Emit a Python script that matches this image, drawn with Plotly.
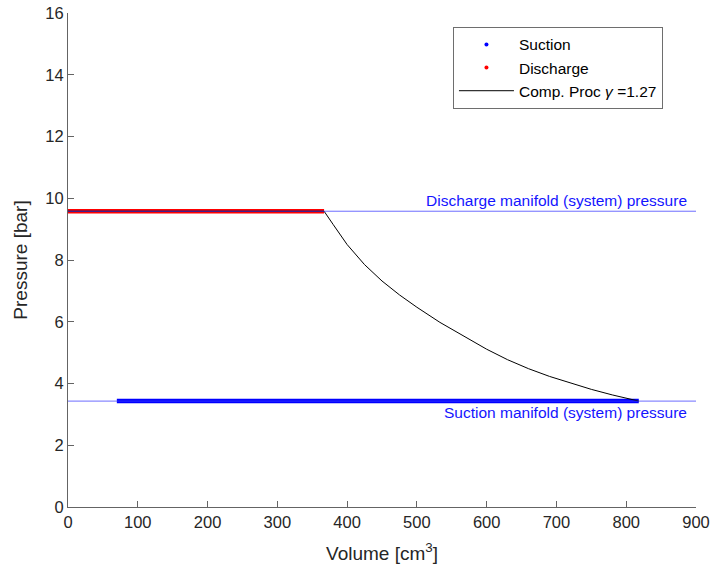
import plotly.graph_objects as go

# Manifold (system) pressures [bar]
p_suction = 3.43
p_discharge = 9.58

# Suction stroke: volume range [cm^3]
suction_v = [70, 818]
suction_p = [p_suction, p_suction]

# Discharge stroke: volume range [cm^3]
discharge_v = [0, 367]
discharge_p = [p_discharge, p_discharge]

# Polytropic compression, gamma = 1.27 (volume [cm^3], pressure [bar])
comp_v = [0, 367, 380, 400, 425, 450, 475, 500, 533, 560, 580, 600, 630,
          660, 690, 720, 750, 780, 800, 818]
comp_p = [9.58, 9.58, 9.15, 8.5, 7.85, 7.32, 6.87, 6.47, 5.98, 5.63, 5.36,
          5.11, 4.77, 4.48, 4.23, 4.01, 3.81, 3.63, 3.53, 3.43]

x_range = [0, 900]
y_range = [0, 16]

blue = "rgb(0,0,255)"
manifold_blue = "rgba(60,60,255,0.75)"
red = "rgb(255,0,0)"
font_family = "Liberation Sans, Arial, sans-serif"

fig = go.Figure()

# Discharge (drawn as a thick red band)
fig.add_trace(go.Scatter(x=discharge_v, y=discharge_p, mode="lines",
                         line=dict(color=red, width=4.5),
                         showlegend=False, hoverinfo="skip"))
# Suction (drawn as a thick blue band)
fig.add_trace(go.Scatter(x=suction_v, y=suction_p, mode="lines",
                         line=dict(color=blue, width=4.5),
                         showlegend=False, hoverinfo="skip"))

# Legend entries
fig.add_trace(go.Scatter(x=[None], y=[None], mode="markers", name="Suction",
                         marker=dict(color=blue, size=4)))
fig.add_trace(go.Scatter(x=[None], y=[None], mode="markers", name="Discharge",
                         marker=dict(color=red, size=4)))

# Compression process
fig.add_trace(go.Scatter(x=comp_v, y=comp_p, mode="lines",
                         name="Comp. Proc <i>γ</i> =1.27",
                         line=dict(color="black", width=1)))

# Manifold pressure lines
fig.add_trace(go.Scatter(x=x_range, y=[p_discharge, p_discharge], mode="lines",
                         line=dict(color=manifold_blue, width=1),
                         showlegend=False, hoverinfo="skip"))
fig.add_trace(go.Scatter(x=x_range, y=[p_suction, p_suction], mode="lines",
                         line=dict(color=manifold_blue, width=1),
                         showlegend=False, hoverinfo="skip"))

fig.add_annotation(x=890, y=p_discharge, xref="x", yref="y",
                   text="Discharge manifold (system) pressure",
                   showarrow=False, xanchor="right", yanchor="bottom", yshift=0,
                   font=dict(family=font_family, size=15.5, color="rgb(20,20,255)"))
fig.add_annotation(x=890, y=p_suction, xref="x", yref="y",
                   text="Suction manifold (system) pressure",
                   showarrow=False, xanchor="right", yanchor="top", yshift=-1,
                   font=dict(family=font_family, size=15.5, color="rgb(20,20,255)"))

axis_color = "rgb(38,38,38)"
common_axis = dict(showgrid=False, zeroline=False, showline=True,
                   linecolor="rgb(100,100,100)", linewidth=1,
                   ticks="inside", ticklen=6, tickcolor="rgb(100,100,100)",
                   tickfont=dict(family=font_family, size=16.5, color=axis_color),
                   mirror=False, automargin=False)

fig.update_layout(
    width=713, height=575,
    margin=dict(l=68, r=17, t=13, b=68),
    paper_bgcolor="white", plot_bgcolor="white",
    font=dict(family=font_family, color=axis_color),
    xaxis=dict(range=x_range, dtick=100,
               title=dict(text="Volume [cm<sup>3</sup>]",
                          font=dict(family=font_family, size=19, color=axis_color),
                          standoff=16),
               **common_axis),
    yaxis=dict(range=y_range, dtick=2,
               title=dict(text="Pressure [bar]",
                          font=dict(family=font_family, size=19, color=axis_color),
                          standoff=12),
               **common_axis),
    legend=dict(x=0.613, y=0.972, xanchor="left", yanchor="top",
                bgcolor="white", bordercolor="rgb(110,110,110)", borderwidth=1,
                font=dict(family=font_family, size=15.5, color="black"),
                itemwidth=55, tracegroupgap=0),
    showlegend=True,
)

fig.write_html("out.html")
